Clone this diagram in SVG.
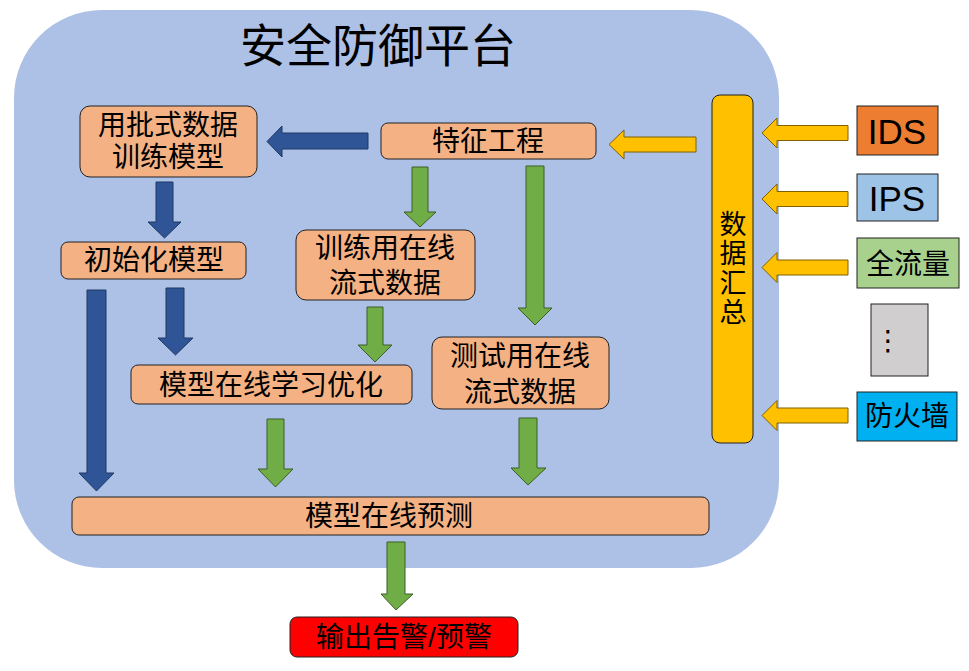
<svg xmlns="http://www.w3.org/2000/svg" width="969" height="671" viewBox="0 0 969 671">
<style>
.t{font-family:"Liberation Sans","Noto Sans CJK SC",sans-serif;fill:#000;text-anchor:middle;dominant-baseline:central}
.v{font-family:"Noto Sans CJK SC",sans-serif;fill:#000;text-anchor:middle;writing-mode:vertical-rl;letter-spacing:2.5px}
.b{fill:#F4B183;stroke:#222;stroke-width:1}
.ab{fill:#2F5597;stroke:#1F3864;stroke-width:1}
.ag{fill:#70AD47;stroke:#3B5E25;stroke-width:1}
.ay{fill:#FFC000;stroke:#7F6000;stroke-width:1}
.s{stroke:#222;stroke-width:1}
</style>
<rect width="969" height="671" fill="#fff"/>
<g id="platform">
<rect x="14" y="10" width="765" height="558" rx="88" ry="88" fill="#ADC0E5"/>
<text class="t" x="378" y="46" font-size="46">安全防御平台</text>
</g>
<g id="batch-train"><rect class="b" x="80" y="106" width="177" height="71" rx="10"/>
<text class="t" font-size="28"><tspan x="168" y="125">用批式数据</tspan><tspan x="168" y="157">训练模型</tspan></text></g>
<g id="feature"><rect class="b" x="381" y="123" width="215" height="36" rx="7"/>
<text class="t" x="488" y="141" font-size="28">特征工程</text></g>
<g id="init-model"><rect class="b" x="61" y="242" width="185" height="37" rx="7"/>
<text class="t" x="154" y="260" font-size="28">初始化模型</text></g>
<g id="train-stream"><rect class="b" x="296" y="230" width="179" height="70" rx="10"/>
<text class="t" font-size="28"><tspan x="385" y="248">训练用在线</tspan><tspan x="385" y="283">流式数据</tspan></text></g>
<g id="online-learn"><rect class="b" x="131" y="365" width="281" height="39" rx="7"/>
<text class="t" x="271" y="385" font-size="28">模型在线学习优化</text></g>
<g id="test-stream"><rect class="b" x="432" y="337" width="177" height="72" rx="10"/>
<text class="t" font-size="28"><tspan x="520" y="356">测试用在线</tspan><tspan x="520" y="392">流式数据</tspan></text></g>
<g id="predict"><rect class="b" x="72" y="497" width="637" height="38" rx="7"/>
<text class="t" x="389" y="516" font-size="28">模型在线预测</text></g>
<g id="output"><rect x="290" y="617" width="228" height="40" rx="7" fill="#FF0000" stroke="#222" stroke-width="1"/>
<text class="t" x="404" y="637" font-size="28">输出告警/预警</text></g>
<g id="data-collect"><rect x="712" y="95" width="41" height="348" rx="8" fill="#FFC000" stroke="#222" stroke-width="1"/>
<text class="v" x="733" y="269" font-size="27">数据汇总</text></g>
<g id="ids"><rect class="s" x="857" y="106" width="81" height="49" fill="#ED7D31"/>
<text class="t" x="897" y="131" font-size="35">IDS</text></g>
<g id="ips"><rect class="s" x="857" y="174" width="81" height="47" fill="#9DC3E6"/>
<text class="t" x="897" y="198" font-size="35">IPS</text></g>
<g id="full-traffic"><rect class="s" x="857" y="238" width="102" height="50" fill="#A9D18E"/>
<text class="t" x="908" y="264" font-size="28">全流量</text></g>
<g id="more"><rect class="s" x="871" y="304" width="57" height="72" fill="#D0CECE"/>
<text class="t" x="888" y="340" font-size="28" style="font-family:'DejaVu Sans',sans-serif">⋮</text></g>
<g id="firewall"><rect class="s" x="857" y="392" width="100" height="49" fill="#00B0F0"/>
<text class="t" x="907" y="416" font-size="28">防火墙</text></g>
<g id="connectors">
<path class="ab" d="M368,133 H282 V126 L267,141.5 L282,157 V149 H368 Z"/>
<path class="ab" d="M156,182 H173 V222 H181 L164.5,238 L148,222 H156 Z"/>
<path class="ab" d="M87,290 H106 V473 H114 L96.5,491 L79,473 H87 Z"/>
<path class="ab" d="M166,288 H184 V338 H193 L175.5,355 L158,338 H166 Z"/>
<path class="ag" d="M412,167 H428 V212 H436 L420,227 L404,212 H412 Z"/>
<path class="ag" d="M526,166 H544 V308 H552 L535,325 L518,308 H526 Z"/>
<path class="ag" d="M367,307 H383 V345 H392 L375,362 L358,345 H367 Z"/>
<path class="ag" d="M267,419 H284 V469 H293 L275.5,487 L258,469 H267 Z"/>
<path class="ag" d="M519,418 H537 V468 H546 L528,485 L511,468 H519 Z"/>
<path class="ag" d="M387,542 H405 V594 H413 L396,610 L381,594 H387 Z"/>
<path class="ay" d="M696,137 H624 V130 L609,144.5 L624,159 V152 H696 Z"/>
<path class="ay" d="M848,125.5 H777 V118 L762,133 L777,148 V140.5 H848 Z"/>
<path class="ay" d="M848,191.5 H777 V184 L762,199 L777,214 V206.5 H848 Z"/>
<path class="ay" d="M848,260 H777 V252.5 L762,267.5 L777,282.5 V275 H848 Z"/>
<path class="ay" d="M848,408 H777 V400.5 L762,415.5 L777,430.5 V423 H848 Z"/>
</g>
</svg>
